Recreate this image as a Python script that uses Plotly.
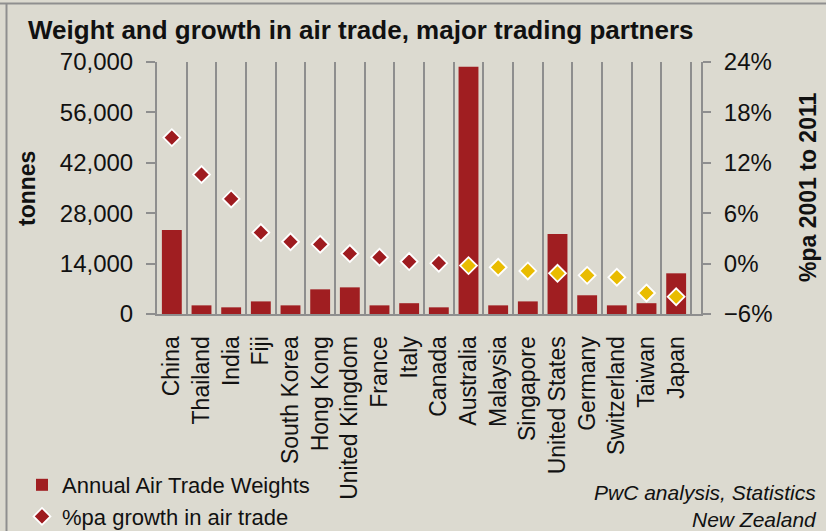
import plotly.graph_objects as go

countries = ["China", "Thailand", "India", "Fiji", "South Korea", "Hong Kong",
             "United Kingdom", "France", "Italy", "Canada", "Australia", "Malaysia",
             "Singapore", "United States", "Germany", "Switzerland", "Taiwan", "Japan"]
weights_tonnes = [23300, 2400, 1850, 3500, 2400, 6850, 7400, 2400, 3000, 1850,
                  68700, 2400, 3500, 22200, 5200, 2400, 3000, 11300]
growth_pct = [15.0, 10.6, 7.7, 3.7, 2.6, 2.3, 1.2, 0.75, 0.24, 0.05,
              -0.24, -0.44, -0.87, -1.16, -1.4, -1.63, -3.5, -3.94]

W, H = 826, 531
BG = "#DCDAD0"
BAR = "#A01E21"
POS = "#9E1B1F"
NEG = "#E9BC00"
GRID = "#8E8E8E"
FONT = "Liberation Sans, Arial, sans-serif"

def px_x(x):
    return x / W

def px_y(y):
    return 1 - y / H

fig = go.Figure()
fig.add_trace(go.Bar(
    x=countries, y=weights_tonnes, name="Annual Air Trade Weights",
    marker=dict(color=BAR, line=dict(width=0)), yaxis="y",
))
fig.add_trace(go.Scatter(
    x=countries, y=growth_pct, name="%pa growth in air trade", mode="markers",
    marker=dict(symbol="diamond", size=13,
                color=[POS if g >= 0 else NEG for g in growth_pct],
                line=dict(color="white", width=1.8)),
    yaxis="y2",
))

n = len(countries)
fig.update_layout(
    width=W, height=H,
    margin=dict(l=0, r=0, t=0, b=0, autoexpand=False),
    paper_bgcolor=BG, plot_bgcolor=BG,
    font=dict(family=FONT, color="#111111"),
    bargap=0.33,
    showlegend=True,
    legend=dict(x=px_x(22), y=px_y(538), xanchor="left", yanchor="bottom",
                bgcolor="rgba(0,0,0,0)", font=dict(size=22, family=FONT),
                tracegroupgap=0, itemwidth=30),
    xaxis=dict(domain=[px_x(157), px_x(701)], type="category",
               range=[-0.5, n - 0.5 + 10 / 29.66],
               tickson="boundaries", showgrid=True, gridcolor=GRID, gridwidth=1.5,
               ticks="", tickangle=-90, tickfont=dict(size=23),
               ticklabelstandoff=11,
               showline=True, linecolor=GRID, linewidth=2, zeroline=False),
    yaxis=dict(domain=[px_y(314), px_y(62)], range=[0, 70000], dtick=14000,
               tickformat=",", showgrid=False, zeroline=False,
               showline=True, linecolor=GRID, linewidth=2,
               ticks="outside", ticklen=9, tickwidth=2, tickcolor=GRID,
               tickfont=dict(size=24), ticklabelstandoff=8),
    yaxis2=dict(overlaying="y", side="right", range=[-6, 24], dtick=6,
                ticksuffix="%", showgrid=False, zeroline=False,
                showline=True, linecolor=GRID, linewidth=2,
                ticks="outside", ticklen=8, tickwidth=2, tickcolor=GRID,
                tickfont=dict(size=24), ticklabelstandoff=8),
)

fig.add_annotation(text="<b>Weight and growth in air trade, major trading partners</b>",
                   xref="paper", yref="paper", x=px_x(26), y=px_y(30),
                   xanchor="left", yanchor="middle", showarrow=False,
                   font=dict(size=26, family=FONT, color="#111111"))
fig.add_annotation(text="<b>tonnes</b>", xref="paper", yref="paper",
                   x=px_x(27), y=px_y(189), textangle=-90, showarrow=False,
                   xanchor="center", yanchor="middle",
                   font=dict(size=23, family=FONT, color="#111111"))
fig.add_annotation(text="<b>%pa 2001 to 2011</b>", xref="paper", yref="paper",
                   x=px_x(808), y=px_y(188), textangle=-90, showarrow=False,
                   xanchor="center", yanchor="middle",
                   font=dict(size=23, family=FONT, color="#111111"))
fig.add_annotation(text="<i>PwC analysis, Statistics<br>New Zealand</i>",
                   xref="paper", yref="paper", x=px_x(819), y=px_y(506),
                   xanchor="right", yanchor="middle", align="right", showarrow=False,
                   font=dict(size=21, family=FONT, color="#111111"))

# chart frame
fig.add_shape(type="line", xref="paper", yref="paper", x0=0, x1=1,
              y0=px_y(3.5), y1=px_y(3.5), line=dict(color="#8F8F8F", width=2))
fig.add_shape(type="line", xref="paper", yref="paper", x0=px_x(6.5), x1=px_x(6.5),
              y0=0, y1=px_y(3.5), line=dict(color="#8F8F8F", width=2))

fig.write_html("out.html", config={"displayModeBar": False},
               post_script="document.body.style.margin='0';document.body.style.overflow='hidden';")
